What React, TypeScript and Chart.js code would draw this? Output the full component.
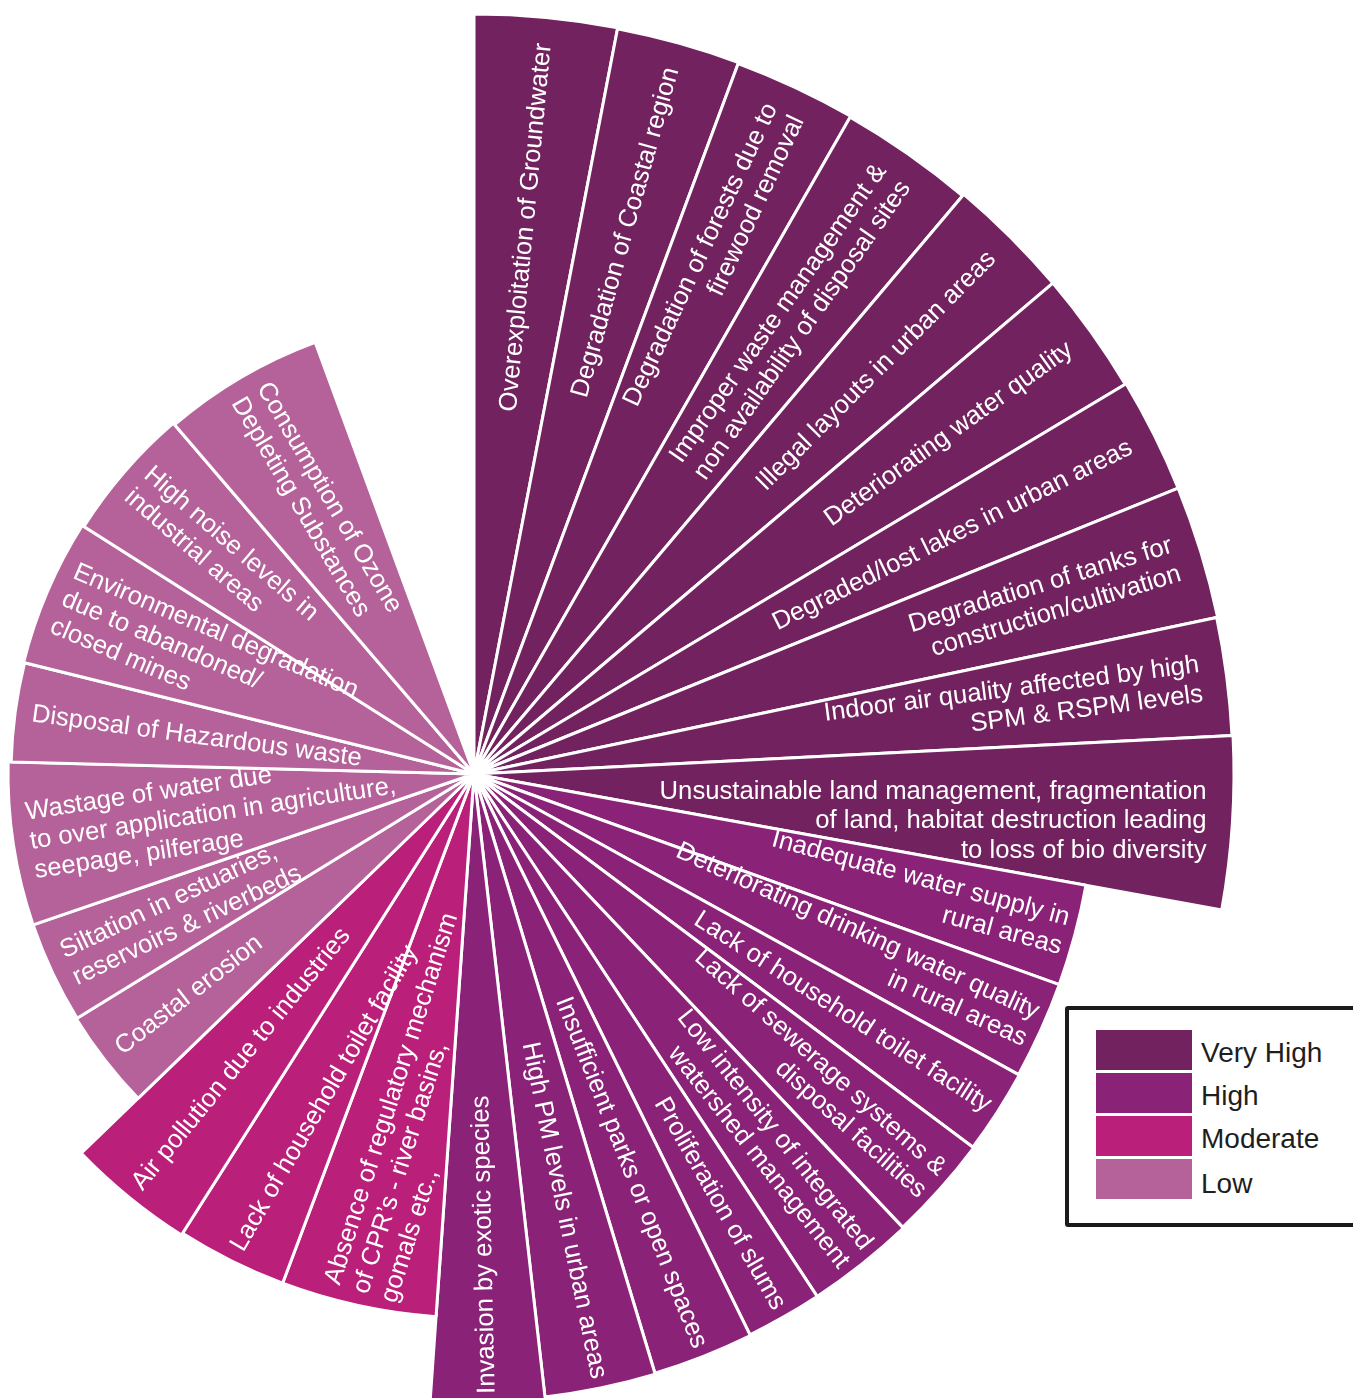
import React, { useEffect, useRef } from "react";
import { Chart, registerables } from "chart.js";

Chart.register(...registerables);

// Issue names (one entry per slice, split into the printed lines)
const issues: string[][] = [
  ["Overexploitation of Groundwater"],
  ["Degradation of Coastal region"],
  ["Degradation of forests due to", "firewood removal"],
  ["Improper waste management &", "non availability of disposal sites"],
  ["Illegal layouts in urban areas"],
  ["Deteriorating water quality"],
  ["Degraded/lost lakes in urban areas"],
  ["Degradation of tanks for", "construction/cultivation"],
  ["Indoor air quality affected by high", "SPM & RSPM levels"],
  ["Unsustainable land management, fragmentation", "of land, habitat destruction leading", "to loss of bio diversity"],
  ["Inadequate water supply in", "rural areas"],
  ["Deteriorating drinking water quality", "in rural areas"],
  ["Lack of household toilet facility"],
  ["Lack of sewerage systems &", "disposal facilities"],
  ["Low intensity of integrated", "watershed management"],
  ["Proliferation of slums"],
  ["Insufficient parks or open spaces"],
  ["High PM levels in urban areas"],
  ["Invasion by exotic species"],
  ["Absence of regulatory mechanism", "of CPR\u2019s - river basins,", "gomals etc.,"],
  ["Lack of household toilet facility"],
  ["Air pollution due to industries"],
  ["Coastal erosion"],
  ["Siltation in estuaries,", "reservoirs & riverbeds"],
  ["Wastage of water due", "to over application in agriculture,", "seepage, pilferage"],
  ["Disposal of Hazardous waste"],
  ["Environmental degradation", "due to abandoned/", "closed mines"],
  ["High noise levels in", "industrial areas"],
  ["Consumption of Ozone", "Depleting Substances"],
];

// Priority level of each issue
const levels: string[] = [
  "Very High", "Very High", "Very High", "Very High", "Very High",
  "Very High", "Very High", "Very High", "Very High", "Very High",
  "High", "High", "High", "High", "High", "High", "High", "High", "High",
  "Moderate", "Moderate", "Moderate",
  "Low", "Low", "Low", "Low", "Low", "Low", "Low",
];

// Angular sweep of each slice (degrees)
const sweep: number[] = [
  10.9, 9.5, 9.4, 10.4, 9.5, 9.4, 8.8, 10.2, 9.0, 13.2,
  9.5, 9.1, 7.9, 9.8, 10.1, 7.1, 9.4, 10.3, 10.5,
  16.6, 11.8, 13.6,
  12.4, 12.7, 20.4, 12.4, 18.5, 17.0, 20.4,
];

// Radial length of each slice
const magnitude: number[] = [
  760, 759, 758, 757, 759, 759, 760, 760, 759, 760,
  622, 622, 623, 624, 625, 625, 626, 627, 630,
  544, 544, 546,
  467, 466, 466, 463, 464, 462, 460,
];

const legendLevels: string[] = ["Very High", "High", "Moderate", "Low"];

// ---- styles ----
const levelColor: Record<string, string> = {
  "Very High": "#72235f",
  High: "#8a2277",
  Moderate: "#ba1f79",
  Low: "#b6629a",
};

const labelPad: Record<string, number> = {
  "Very High": 26,
  High: 10,
  Moderate: 13,
  Low: 17,
};

// small extra text tilt (degrees) for a few hand-set labels
const labelTilt: Record<number, number> = { 9: -3.7, 19: 5.4, 20: 3.6 };

const SCALE_MAX = 780;
const CX = 474;
const CY = 774;
const LINE_H = 29.5;
const LABEL_FONT = "25.7px 'Liberation Sans', Arial, Helvetica, sans-serif";

const sliceLabels = {
  id: "sliceLabels",
  afterDatasetsDraw(chart: any) {
    const ctx = chart.ctx as CanvasRenderingContext2D;
    const meta = chart.getDatasetMeta(0);
    meta.data.forEach((el: any, i: number) => {
      const p = el.getProps(["x", "y", "startAngle", "endAngle", "outerRadius"], true);
      const mid = (p.startAngle + p.endAngle) / 2;
      const fromNorth = (((mid * 180) / Math.PI + 90) % 360 + 360) % 360;
      const lines = issues[i];
      const n = lines.length;
      const r = p.outerRadius - labelPad[levels[i]];
      const tilt = ((labelTilt[i] || 0) * Math.PI) / 180;
      ctx.save();
      ctx.translate(p.x, p.y);
      ctx.font = LABEL_FONT;
      ctx.fillStyle = "#ffffff";
      ctx.textBaseline = "middle";
      if (fromNorth < 175) {
        ctx.rotate(mid);
        ctx.translate(r, 0);
        ctx.rotate(tilt);
        ctx.textAlign = "right";
      } else {
        ctx.rotate(mid + Math.PI);
        ctx.translate(-r, 0);
        ctx.rotate(tilt);
        ctx.textAlign = "left";
      }
      lines.forEach((t, k) => ctx.fillText(t, 0, (k - (n - 1) / 2) * LINE_H));
      ctx.restore();
    });
  },
};

export default function App() {
  const canvasRef = useRef<HTMLCanvasElement | null>(null);

  useEffect(() => {
    if (!canvasRef.current) return;
    const chart = new Chart(canvasRef.current, {
      type: "polarArea",
      data: {
        labels: issues.map((l) => l.join(" ")),
        datasets: [
          {
            data: magnitude,
            backgroundColor: levels.map((l) => levelColor[l]),
            borderColor: "#ffffff",
            borderWidth: 3,
            angle: (c: any) => sweep[c.dataIndex],
          } as any,
        ],
      },
      options: {
        responsive: false,
        animation: false,
        events: [],
        layout: { padding: 0 },
        plugins: {
          legend: { display: false },
          tooltip: { enabled: false },
        },
        scales: {
          r: {
            display: false,
            min: 0,
            max: SCALE_MAX,
            startAngle: 0,
            ticks: { display: false },
            grid: { display: false },
            angleLines: { display: false },
            pointLabels: { display: false },
          },
        },
      } as any,
      plugins: [sliceLabels],
    });
    return () => chart.destroy();
  }, []);

  const size = SCALE_MAX * 2;

  return (
    <div
      style={{
        position: "fixed",
        left: 0,
        top: 0,
        width: 1353,
        height: 1398,
        overflow: "hidden",
        background: "#ffffff",
      }}
    >
      <canvas
        ref={canvasRef}
        width={size}
        height={size}
        style={{ position: "absolute", left: CX - SCALE_MAX, top: CY - SCALE_MAX, display: "block" }}
      />
      <div
        style={{
          position: "absolute",
          left: 1065,
          top: 1006,
          width: 330,
          height: 221,
          border: "4px solid #1b1b1b",
          borderRadius: 3,
          boxSizing: "border-box",
          background: "#ffffff",
        }}
      />
      {legendLevels.map((lv, k) => (
        <React.Fragment key={lv}>
          <div
            style={{
              position: "absolute",
              left: 1096,
              top: 1030 + k * 43,
              width: 96,
              height: 40,
              background: levelColor[lv],
            }}
          />
          <div
            style={{
              position: "absolute",
              left: 1201,
              top: [1039, 1082, 1125, 1170][k],
              font: "28px 'Liberation Sans', Arial, Helvetica, sans-serif",
              lineHeight: "28px",
              color: "#1e1e1e",
              whiteSpace: "nowrap",
            }}
          >
            {lv}
          </div>
        </React.Fragment>
      ))}
    </div>
  );
}
